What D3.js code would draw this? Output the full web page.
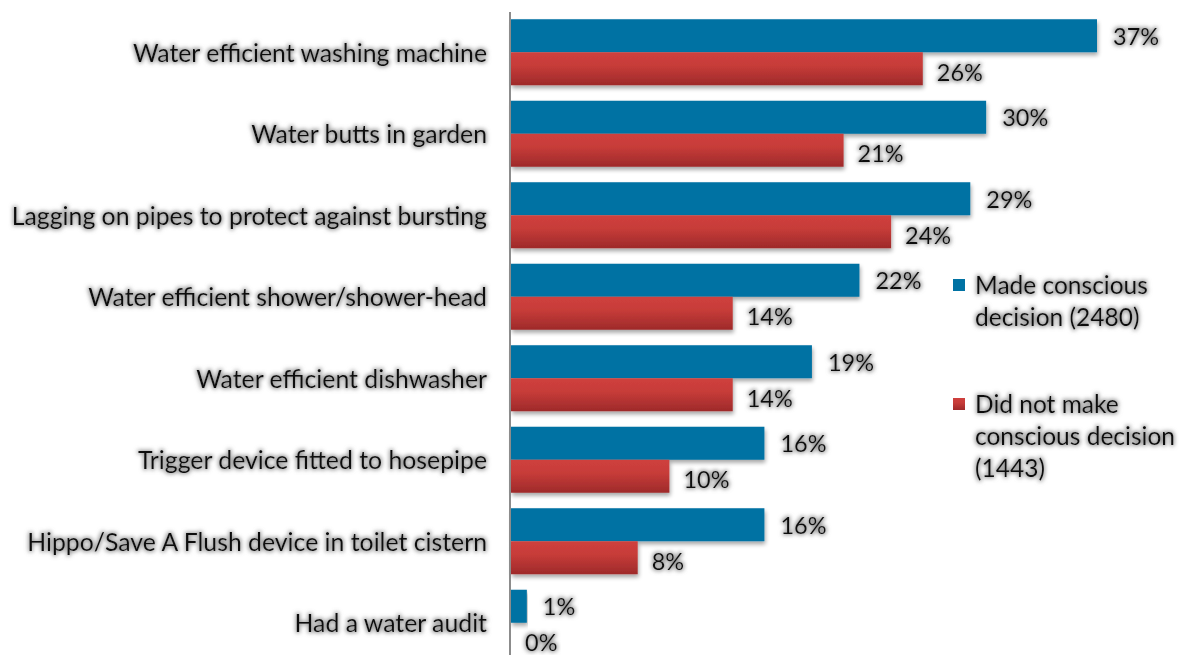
<!DOCTYPE html>
<html>
<head>
<meta charset="utf-8">
<script src="https://cdn.jsdelivr.net/npm/d3@7"></script>
<style>
  html, body { margin: 0; padding: 0; background: #fff; }
  svg { display: block; }
  text { font-family: Lato, "Open Sans", sans-serif; fill: #111; }
</style>
</head>
<body>
<svg id="chart" width="1179" height="655"></svg>
<script>
// Water-saving measures, by whether a conscious decision was made
const categories = [
  "Water efficient washing machine",
  "Water butts in garden",
  "Lagging on pipes to protect against bursting",
  "Water efficient shower/shower-head",
  "Water efficient dishwasher",
  "Trigger device fitted to hosepipe",
  "Hippo/Save A Flush device in toilet cistern",
  "Had a water audit"
];
const madeDecision = [37, 30, 29, 22, 19, 16, 16, 1];
const noDecision   = [26, 21, 24, 14, 14, 10, 8, 0];
const seriesNames = [
  ["Made conscious", "decision (2480)"],
  ["Did not make", "conscious decision", "(1443)"]
];

const svg = d3.select("#chart");
const defs = svg.append("defs");

// soft grey halo behind text
const glow = defs.append("filter").attr("id", "glow")
  .attr("x", "-10%").attr("y", "-40%").attr("width", "120%").attr("height", "180%");
glow.append("feMorphology").attr("in", "SourceAlpha").attr("operator", "dilate").attr("radius", 1.1).attr("result", "d");
glow.append("feGaussianBlur").attr("in", "d").attr("stdDeviation", 2).attr("result", "b");
glow.append("feFlood").attr("flood-color", "#858585").attr("flood-opacity", 0.85).attr("result", "c");
glow.append("feComposite").attr("in", "c").attr("in2", "b").attr("operator", "in").attr("result", "s");
const gm = glow.append("feMerge");
gm.append("feMergeNode").attr("in", "s");
gm.append("feMergeNode").attr("in", "SourceGraphic");

// drop shadow under bars
const shadow = defs.append("filter").attr("id", "barShadow")
  .attr("x", "-5%").attr("y", "-20%").attr("width", "110%").attr("height", "160%");
shadow.append("feGaussianBlur").attr("in", "SourceAlpha").attr("stdDeviation", 2).attr("result", "b");
shadow.append("feOffset").attr("in", "b").attr("dx", 1).attr("dy", 3).attr("result", "o");
shadow.append("feComponentTransfer").attr("in", "o").attr("result", "o2")
  .append("feFuncA").attr("type", "linear").attr("slope", 0.35);
const sm = shadow.append("feMerge");
sm.append("feMergeNode").attr("in", "o2");
sm.append("feMergeNode").attr("in", "SourceGraphic");

// red bar gradient
const redGrad = defs.append("linearGradient").attr("id", "redGrad")
  .attr("x1", 0).attr("y1", 0).attr("x2", 0).attr("y2", 1);
redGrad.append("stop").attr("offset", "0%").attr("stop-color", "#cf403d");
redGrad.append("stop").attr("offset", "40%").attr("stop-color", "#c73c39");
redGrad.append("stop").attr("offset", "100%").attr("stop-color", "#9e2a2a");

const blue = "#0072a3";

const x0 = 511;
const x = d3.scaleLinear().domain([0, 37]).range([x0, 1097]);
const y = d3.scaleBand().domain(categories).range([11.5, 663.5]).paddingInner(0.19).paddingOuter(0.095);
const sub = d3.scaleBand().domain([0, 1]).range([0, y.bandwidth()]);

const rows = svg.append("g").selectAll("g").data(categories).join("g")
  .attr("transform", d => `translate(0,${y(d)})`);

// blue bars
rows.append("rect")
  .attr("x", x0)
  .attr("y", sub(0))
  .attr("width", (d, i) => x(madeDecision[i]) - x0)
  .attr("height", sub.bandwidth())
  .attr("fill", blue)
  .attr("filter", "url(#barShadow)");

// red bars
rows.append("rect")
  .attr("x", x0)
  .attr("y", sub(1))
  .attr("width", (d, i) => x(noDecision[i]) - x0)
  .attr("height", sub.bandwidth())
  .attr("fill", "url(#redGrad)")
  .attr("filter", (d, i) => noDecision[i] > 0 ? "url(#barShadow)" : null);

// value labels
rows.append("text")
  .attr("x", (d, i) => x(madeDecision[i]) + 16)
  .attr("y", sub(0) + sub.bandwidth() / 2 + 1)
  .attr("dy", "0.35em")
  .attr("font-size", 23.5)
  .attr("filter", "url(#glow)")
  .text((d, i) => madeDecision[i] + "%");

rows.append("text")
  .attr("x", (d, i) => x(noDecision[i]) + 14)
  .attr("y", sub(1) + sub.bandwidth() / 2 + 4)
  .attr("dy", "0.35em")
  .attr("font-size", 23.5)
  .attr("filter", "url(#glow)")
  .text((d, i) => noDecision[i] + "%");

// category labels
rows.append("text")
  .attr("x", 487)
  .attr("y", y.bandwidth() / 2 + 1)
  .attr("dy", "0.35em")
  .attr("text-anchor", "end")
  .attr("font-size", 24.8)
  .attr("filter", "url(#glow)")
  .text(d => d);

// vertical category axis line
svg.append("line")
  .attr("x1", 510).attr("x2", 510)
  .attr("y1", 12).attr("y2", 655)
  .attr("stroke", "#8c8c8c").attr("stroke-width", 2);

// legend
const legend = svg.append("g");
const legendTop = [285, 404];
const legendFill = [blue, "url(#redGrad)"];
seriesNames.forEach((lines, k) => {
  const g = legend.append("g").attr("transform", `translate(953,${legendTop[k]})`);
  g.append("rect").attr("x", 0).attr("y", -6).attr("width", 12).attr("height", 12).attr("fill", legendFill[k]);
  lines.forEach((t, j) => {
    g.append("text")
      .attr("x", 22).attr("y", j * 32)
      .attr("dy", "0.35em")
      .attr("font-size", 24.5)
      .attr("filter", "url(#glow)")
      .text(t);
  });
});
</script>
</body>
</html>
